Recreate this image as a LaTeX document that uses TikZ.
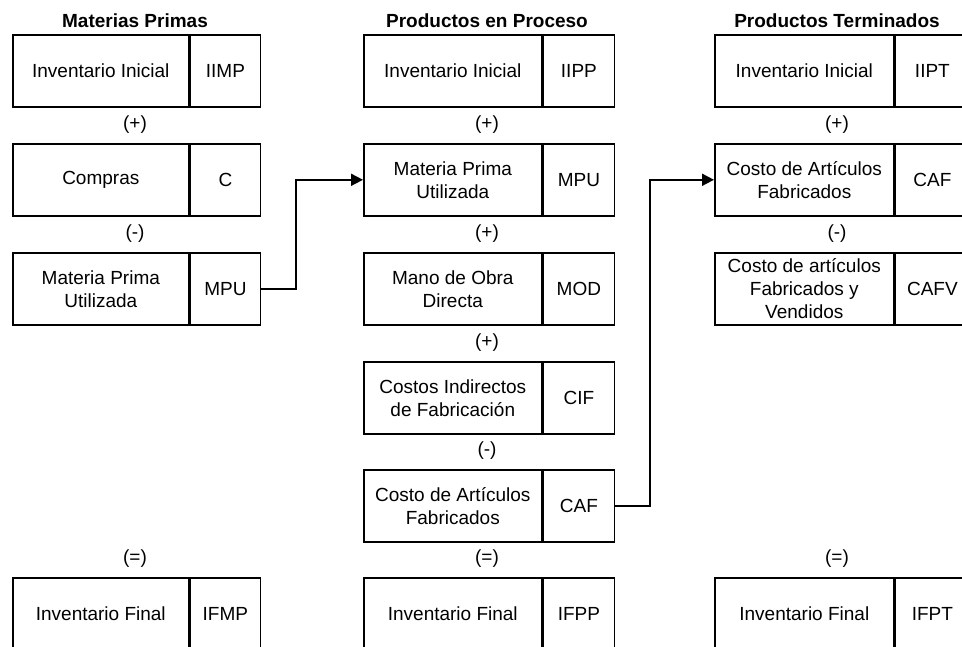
\documentclass[tikz,border=0pt]{standalone}
\usepackage{fontspec}
\setmainfont{Liberation Sans}
\usetikzlibrary{arrows.meta}
\tikzset{
  boxline/.style={draw=black, line width=1.6pt},
  lbl/.style={boxline, rectangle, anchor=north west, minimum height=72pt, inner sep=0pt, align=center, font=\fontsize{19}{23}\selectfont},
  cod/.style={boxline, rectangle, anchor=north west, minimum height=72pt, inner sep=0pt, align=center, font=\fontsize{19}{23}\selectfont},
  hdr/.style={anchor=base, inner sep=0pt, font=\fontsize{19}{23}\selectfont\bfseries},
  oper/.style={inner sep=0pt, font=\fontsize{19}{23}\selectfont},
  conn/.style={draw=black, line width=1.8pt, -{Triangle[length=12pt,width=12pt]}}
}
\newcommand\mybox[7]{%
  \node[lbl, minimum width=#4pt] (#1) at (#2,#3) {#6};
  \node[cod, minimum width=#5pt] (#1c) at (#1.north east) {#7};
}
\begin{document}
\begin{tikzpicture}[x=1pt,y=-1pt]
\useasboundingbox (0,0) rectangle (962,647);
\fill[white] (0,0) rectangle (962,647);
\clip (0,0) rectangle (962,647);
% headers
\node[hdr] (hA) at (135,28) {Materias Primas};
\node[hdr] (hB) at (487,28) {Productos en Proceso};
\node[hdr] (hC) at (837,28) {Productos Terminados};
% left column
\mybox{a1}{12}{34}{176}{70}{Inventario Inicial}{IIMP}
\mybox{a2}{12}{143}{176}{70}{Compras}{C}
\mybox{a3}{12}{252}{176}{70}{Materia Prima\\Utilizada}{MPU}
\mybox{a6}{12}{577}{176}{70}{Inventario Final}{IFMP}
\node[oper] (oa1) at (135,125) {(+)};
\node[oper] (oa2) at (135,234) {(-)};
\node[oper] (oa5) at (135,559) {(=)};
% middle column
\mybox{b1}{363}{34}{178}{71}{Inventario Inicial}{IIPP}
\mybox{b2}{363}{143}{178}{71}{Materia Prima\\Utilizada}{MPU}
\mybox{b3}{363}{252}{178}{71}{Mano de Obra\\Directa}{MOD}
\mybox{b4}{363}{361}{178}{71}{Costos Indirectos\\de Fabricación}{CIF}
\mybox{b5}{363}{469}{178}{71}{Costo de Artículos\\Fabricados}{CAF}
\mybox{b6}{363}{577}{178}{71}{Inventario Final}{IFPP}
\node[oper] (ob1) at (487,125) {(+)};
\node[oper] (ob2) at (487,234) {(+)};
\node[oper] (ob3) at (487,343) {(+)};
\node[oper] (ob4) at (487,451) {(-)};
\node[oper] (ob5) at (487,559) {(=)};
% right column
\mybox{c1}{714}{34}{179}{74}{Inventario Inicial}{IIPT}
\mybox{c2}{714}{143}{179}{74}{Costo de Artículos\\Fabricados}{CAF}
\mybox{c3}{714}{252}{179}{74}{Costo de artículos\\Fabricados y\\Vendidos}{CAFV}
\mybox{c6}{714}{577}{179}{74}{Inventario Final}{IFPT}
\node[oper] (oc1) at (837,125) {(+)};
\node[oper] (oc2) at (837,234) {(-)};
\node[oper] (oc5) at (837,559) {(=)};
% connectors
\draw[conn] (a3c.east) -- ++(35,0) |- (b2.west);
\draw[conn] (b5c.east) -- ++(35,0) |- (c2.west);
\end{tikzpicture}
\end{document}
